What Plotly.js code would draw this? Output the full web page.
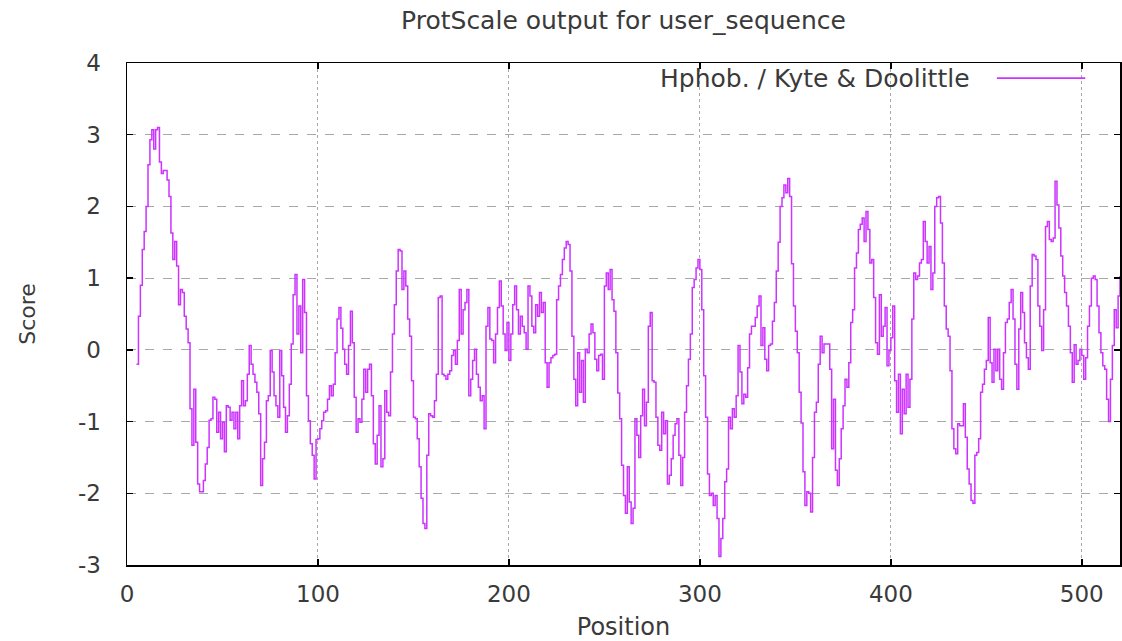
<!DOCTYPE html>
<html>
<head>
<meta charset="utf-8">
<script src="https://cdn.plot.ly/plotly-3.0.1.min.js"></script>
<style>
  html, body { margin: 0; padding: 0; background: #ffffff; }
  #chart { width: 1122px; height: 641px; }
</style>
</head>
<body>
<div id="chart"></div>
<script>
// ProtScale output, Hphob. / Kyte & Doolittle, window scores by position
const chartTitle = "ProtScale output for user_sequence";
const seriesName = "Hphob. / Kyte & Doolittle";
const xAxisTitle = "Position";
const yAxisTitle = "Score";
const xTickValues = [0, 100, 200, 300, 400, 500];
const yTickValues = [-3, -2, -1, 0, 1, 2, 3, 4];

const firstPosition = 5;
// positions 5-64
const scoresA = [-0.2, 0.47, 0.9, 1.4, 1.65, 2.0, 2.58, 2.93, 3.07, 2.8,
  3.07, 3.1, 2.62, 2.46, 2.5, 2.5, 2.37, 2.14, 1.63, 1.26,
  1.51, 1.17, 0.63, 0.84, 0.8, 0.47, 0.29, 0.1, -0.82, -1.33,
  -0.55, -1.29, -1.87, -1.98, -1.98, -1.82, -1.59, -1.36, -0.98, -0.96,
  -0.66, -0.69, -1.15, -0.87, -1.24, -1.01, -1.42, -0.78, -0.8, -0.98,
  -0.87, -1.1, -0.87, -1.24, -0.78, -0.43, -0.78, -0.71, -0.34, 0.06];
// positions 65-130
const scoresB = [-0.2, -0.34, -0.45, -0.59, -0.89, -1.89, -1.52, -1.29, -0.71, -0.64,
  -0.01, -0.31, -0.64, -0.78, -0.94, -0.01, -0.36, -0.8, -1.15, -0.92,
  -0.48, 0.08, 0.77, 1.05, 0.22, 0.61, -0.04, 0.98, 0.52, -0.64,
  -0.99, -1.31, -1.47, -1.8, -1.25, -1.24, -1.1, -0.99, -0.87, -0.85,
  -0.69, -0.5, -0.64, -0.48, -0.04, 0.43, 0.59, 0.3, 0.01, -0.2,
  -0.34, 0.06, 0.54, 0.1, -0.66, -1.15, -0.96, -1.01, -0.69, -0.27,
  -0.59, -0.27, -0.2, -0.64, -1.31, -1.59];
// positions 131-195
const scoresC = [-1.19, -0.78, -1.63, -1.52, -0.57, -0.87, -0.92, -0.31, 0.22, 0.63,
  1.1, 1.4, 1.38, 0.84, 1.1, 0.89, 0.43, 0.19, -0.43, -0.94,
  -0.96, -1.24, -1.63, -2.07, -2.42, -2.49, -1.47, -0.89, -0.92, -0.94,
  -0.71, -0.34, 0.73, 0.75, -0.34, -0.36, -0.41, -0.34, -0.29, -0.08,
  -0.01, -0.2, 0.13, 0.84, 0.22, 0.56, 0.66, 0.84, -0.64, -0.41,
  -0.15, 0.01, -0.34, -0.52, -0.71, -0.64, -1.1, 0.33, 0.59, 0.15,
  0.13, -0.18, 0.22, 0.59, 0.96];
// positions 196-261
const scoresD = [0.61, 0.22, -0.01, 0.38, -0.15, 0.22, 0.63, 0.89, 0.56, 0.22,
  0.47, 0.33, 0.24, 0.01, 0.89, 0.75, 0.33, 0.24, 0.63, 0.47,
  0.8, 0.52, 0.66, -0.18, -0.52, -0.18, -0.11, -0.08, -0.06, 0.7,
  0.89, 1.05, 1.26, 1.42, 1.51, 1.47, 1.1, 0.19, -0.41, -0.78,
  -0.04, -0.59, -0.15, -0.73, 0.01, -0.04, 0.22, 0.36, 0.24, -0.13,
  -0.29, -0.08, -0.06, -0.41, 0.89, 1.07, 0.84, 1.12, 0.7, 0.54,
  -0.04, -0.6, -0.96, -1.61, -2.03, -2.28];
// positions 262-324
const scoresE = [-1.63, -2.12, -2.42, -2.21, -0.96, -1.19, -1.5, -0.92, -0.55, -1.06,
  -0.73, 0.33, 0.52, -0.43, -0.45, -0.94, -1.33, -1.4, -0.87, -1.17,
  -0.99, -1.87, -1.75, -1.52, -1.19, -1.03, -0.96, -1.47, -1.89, -1.5,
  -0.87, -0.5, -0.13, 0.22, 0.87, 0.98, 1.14, 1.26, 1.12, 0.56,
  -0.36, -0.94, -1.73, -2.03, -2.0, -2.17, -2.03, -2.35, -2.88, -2.63,
  -2.35, -1.84, -1.66, -0.94, -1.1, -0.82, -0.94, -0.64, 0.06, -0.31,
  -0.75, -0.62, -0.66];
// positions 325-392
const scoresF = [-0.25, 0.22, 0.33, 0.33, 0.45, 0.61, 0.75, 0.06, 0.31, -0.13,
  -0.29, 0.06, 0.08, 0.4, 0.66, 1.1, 1.5, 2.0, 2.12, 2.3,
  2.19, 2.39, 2.14, 1.2, 0.61, 0.26, -0.04, -0.59, -1.02, -1.7,
  -2.17, -1.98, -2.0, -2.26, -1.5, -0.87, -0.73, -0.2, 0.19, -0.04,
  0.08, 0.08, 0.08, -0.27, -1.38, -0.69, -1.68, -1.89, -1.52, -1.1,
  -0.78, -0.41, -0.52, -0.18, 0.38, 0.56, 1.14, 1.35, 1.68, 1.75,
  1.84, 1.51, 1.93, 1.68, 1.21, 1.26, 0.73, 0.1];
// positions 393-457
const scoresG = [-0.06, 0.77, 0.19, 0.33, 0.59, -0.22, -0.01, 0.17, 0.61, -0.43,
  -0.87, -0.34, -1.17, -0.55, -0.89, -0.34, -0.8, -0.41, 0.43, 1.07,
  0.98, 1.03, 1.21, 1.26, 1.79, 1.51, 1.21, 1.44, 0.84, 1.07,
  2.0, 2.12, 2.14, 1.77, 1.21, 0.61, 0.29, 0.19, -0.29, -1.1,
  -1.38, -1.45, -1.03, -1.06, -1.06, -0.75, -1.22, -1.66, -1.87, -2.1,
  -2.14, -1.47, -1.43, -1.24, -0.59, -0.48, -0.27, -0.15, 0.45, -0.18,
  -0.45, 0.01, -0.29, 0.01, -0.41];
// positions 458-520
const scoresH = [-0.55, -0.04, 0.38, 0.43, 0.66, 0.84, 0.43, -0.2, -0.55, 0.29,
  0.8, 0.52, 0.1, -0.11, -0.27, 0.89, 1.33, 1.31, 1.26, 0.61,
  0.33, -0.01, 0.56, 1.72, 1.79, 1.54, 1.51, 1.56, 2.35, 2.02,
  1.7, 1.31, 1.03, 0.8, 0.61, 0.33, -0.04, -0.45, 0.07, -0.2,
  -0.15, 0.01, -0.08, -0.41, -0.11, 0.33, 0.61, 1.0, 1.03, 0.98,
  0.61, 0.24, -0.04, -0.22, -0.27, -0.69, -1.0, -0.41, 0.06, 0.56,
  0.31, 0.75, 1.03];

const scores = [].concat(scoresA, scoresB, scoresC, scoresD, scoresE, scoresF, scoresG, scoresH);
const positions = scores.map((_, i) => firstPosition + i);

const lineColor = "#cc33ff";
const textColor = "#3a3a3a";
const fontFamily = "DejaVu Sans, Verdana, sans-serif";

const trace = {
  type: "scatter",
  mode: "lines",
  x: positions,
  y: scores,
  name: seriesName,
  line: { color: lineColor, width: 1.5, shape: "hv" },
  showlegend: false,
  hoverinfo: "x+y"
};

const layout = {
  width: 1122,
  height: 641,
  margin: { l: 127, r: 2, t: 63, b: 76, pad: 0 },
  paper_bgcolor: "#ffffff",
  plot_bgcolor: "#ffffff",
  font: { family: fontFamily, size: 23, color: textColor },
  title: {
    text: chartTitle,
    font: { family: fontFamily, size: 25, color: textColor },
    x: 0.5, xref: "paper", xanchor: "center",
    y: 0.968, yref: "container", yanchor: "middle"
  },
  xaxis: {
    range: [0, 520],
    tickmode: "array",
    tickvals: xTickValues,
    ticktext: xTickValues.map(String),
    ticks: "inside",
    ticklen: 6,
    tickwidth: 1.5,
    tickcolor: "#000000",
    showline: true,
    linecolor: "#000000",
    linewidth: 1.5,
    mirror: "ticks",
    showgrid: true,
    gridcolor: "#a8a8a8",
    gridwidth: 1,
    griddash: "dot",
    zeroline: false,
    ticklabelstandoff: 8,
    tickfont: { family: fontFamily, size: 23, color: textColor },
    title: { text: xAxisTitle, font: { family: fontFamily, size: 24, color: textColor }, standoff: 14 }
  },
  yaxis: {
    range: [-3, 4],
    tickmode: "array",
    tickvals: yTickValues,
    ticktext: yTickValues.map(String),
    ticks: "inside",
    ticklen: 6,
    tickwidth: 1.5,
    tickcolor: "#000000",
    showline: true,
    linecolor: "#000000",
    linewidth: 1.5,
    mirror: "ticks",
    showgrid: true,
    gridcolor: "#a8a8a8",
    gridwidth: 1,
    griddash: "dash",
    zeroline: false,
    ticklabelstandoff: 20,
    tickfont: { family: fontFamily, size: 23, color: textColor },
    title: { text: yAxisTitle, font: { family: fontFamily, size: 22, color: textColor }, standoff: 36 }
  },
  annotations: [{
    text: seriesName,
    xref: "paper", yref: "paper",
    x: 0.851, y: 0.970,
    xanchor: "right", yanchor: "middle",
    showarrow: false,
    font: { family: fontFamily, size: 25, color: textColor }
  }],
  shapes: [{
    type: "line",
    xref: "paper", yref: "paper",
    x0: 0.876, x1: 0.965, y0: 0.970, y1: 0.970,
    line: { color: lineColor, width: 1.8 }
  }]
};

Plotly.newPlot("chart", [trace], layout, { displayModeBar: false, staticPlot: true });
</script>
</body>
</html>
